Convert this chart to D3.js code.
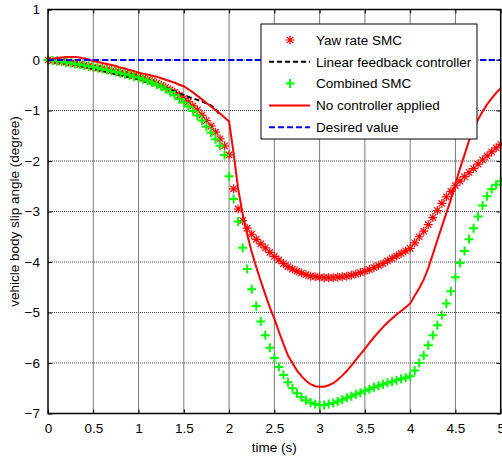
<!DOCTYPE html>
<html>
<head>
<meta charset="utf-8">
<script src="https://cdn.jsdelivr.net/npm/d3@7"></script>
<style>
  body { margin: 0; background: #fff; }
  text { font-family: Arial, "Liberation Sans", sans-serif; }
</style>
</head>
<body>
<div id="chart"></div>
<script>
// sample times (s)
const time = [0,0.05,0.1,0.15,0.2,0.25,0.3,0.35,0.4,0.45,0.5,0.55,0.6,0.65,0.7,0.75,0.8,0.85,0.9,0.95,
  1,1.05,1.1,1.15,1.2,1.25,1.3,1.35,1.4,1.45,1.5,1.55,1.6,1.65,1.7,1.75,1.8,1.85,1.9,1.95,
  2,2.05,2.1,2.15,2.2,2.25,2.3,2.35,2.4,2.45,2.5,2.55,2.6,2.65,2.7,2.75,2.8,2.85,2.9,2.95,
  3,3.05,3.1,3.15,3.2,3.25,3.3,3.35,3.4,3.45,3.5,3.55,3.6,3.65,3.7,3.75,3.8,3.85,3.9,3.95,
  4,4.05,4.1,4.15,4.2,4.25,4.3,4.35,4.4,4.45,4.5,4.55,4.6,4.65,4.7,4.75,4.8,4.85,4.9,4.95,5]

const yawSMC = [0,-0.01,-0.02,-0.03,-0.04,-0.06,-0.07,-0.09,-0.10,-0.12,-0.14,-0.16,-0.17,-0.19,-0.21,-0.23,-0.25,-0.27,-0.29,-0.31,
  -0.33,-0.36,-0.39,-0.42,-0.46,-0.50,-0.54,-0.59,-0.64,-0.70,-0.76,-0.83,-0.91,-0.99,-1.09,-1.20,-1.31,-1.43,-1.56,-1.70,
  -1.88,-2.55,-2.95,-3.18,-3.33,-3.45,-3.55,-3.64,-3.72,-3.81,-3.89,-3.96,-4.03,-4.09,-4.14,-4.18,-4.22,-4.25,-4.28,-4.29,
  -4.30,-4.31,-4.31,-4.31,-4.30,-4.29,-4.28,-4.26,-4.24,-4.21,-4.18,-4.15,-4.11,-4.07,-4.03,-3.98,-3.93,-3.88,-3.83,-3.78,
  -3.73,-3.62,-3.50,-3.39,-3.26,-3.12,-2.98,-2.84,-2.71,-2.60,-2.49,-2.40,-2.31,-2.23,-2.15,-2.06,-1.98,-1.90,-1.82,-1.74,-1.67]

// linear feedback only reaches t = 1.9
const linearFB = [0,-0.01,-0.03,-0.04,-0.06,-0.07,-0.09,-0.11,-0.13,-0.15,-0.17,-0.19,-0.21,-0.24,-0.26,-0.28,-0.30,-0.32,-0.34,-0.36,
  -0.38,-0.41,-0.44,-0.47,-0.50,-0.53,-0.56,-0.59,-0.62,-0.66,-0.69,-0.73,-0.76,-0.79,-0.82,-0.86,-0.90,-0.97,-1.10]

const combinedSMC = [0,-0.01,-0.02,-0.03,-0.05,-0.06,-0.08,-0.09,-0.11,-0.12,-0.14,-0.16,-0.18,-0.20,-0.22,-0.24,-0.26,-0.28,-0.30,-0.33,
  -0.35,-0.38,-0.41,-0.45,-0.49,-0.53,-0.58,-0.64,-0.70,-0.77,-0.84,-0.92,-1.01,-1.10,-1.20,-1.32,-1.44,-1.57,-1.70,-1.88,
  -2.30,-2.75,-3.20,-3.72,-4.14,-4.54,-4.87,-5.18,-5.45,-5.70,-5.90,-6.08,-6.24,-6.38,-6.50,-6.60,-6.68,-6.74,-6.78,-6.81,
  -6.83,-6.83,-6.81,-6.79,-6.76,-6.73,-6.69,-6.66,-6.62,-6.59,-6.55,-6.52,-6.48,-6.45,-6.42,-6.39,-6.37,-6.34,-6.31,-6.29,
  -6.26,-6.15,-6.00,-5.85,-5.65,-5.45,-5.25,-5.05,-4.82,-4.58,-4.30,-4.02,-3.78,-3.55,-3.33,-3.10,-2.88,-2.70,-2.56,-2.47,-2.40]

const noControl = [0,0.02,0.04,0.05,0.06,0.06,0.06,0.05,0.03,0.01,-0.02,-0.04,-0.06,-0.08,-0.10,-0.12,-0.15,-0.17,-0.20,-0.22,
  -0.25,-0.27,-0.29,-0.31,-0.33,-0.36,-0.39,-0.42,-0.45,-0.49,-0.52,-0.58,-0.64,-0.71,-0.78,-0.85,-0.92,-0.99,-1.06,-1.14,
  -1.22,-1.85,-2.55,-3.05,-3.45,-3.80,-4.10,-4.38,-4.64,-4.90,-5.12,-5.38,-5.62,-5.85,-6.00,-6.15,-6.26,-6.35,-6.42,-6.46,
  -6.47,-6.47,-6.44,-6.40,-6.33,-6.25,-6.16,-6.05,-5.94,-5.83,-5.72,-5.60,-5.49,-5.39,-5.29,-5.20,-5.12,-5.04,-4.97,-4.90,
  -4.82,-4.67,-4.52,-4.35,-4.12,-3.85,-3.57,-3.30,-3.03,-2.76,-2.45,-2.15,-1.88,-1.60,-1.36,-1.18,-1.02,-0.88,-0.76,-0.65,-0.56]

const desiredTime = [0, 5]
const desired = [0, 0]

const xTicks = [0, 0.5, 1, 1.5, 2, 2.5, 3, 3.5, 4, 4.5, 5]
const yTicks = [-7, -6, -5, -4, -3, -2, -1, 0, 1]
const legendLabels = ["Yaw rate SMC", "Linear feedback controller", "Combined SMC", "No controller applied", "Desired value"]

var width = 502, height = 459
var margin = { top: 9.5, right: 1.3, bottom: 45.5, left: 48 }
var fontSize = 13.5

var svg = d3.select("#chart").append("svg")
    .attr("width", width)
    .attr("height", height)

var x = d3.scaleLinear().domain([0, 5]).range([margin.left, width - margin.right])
var y = d3.scaleLinear().domain([-7, 1]).range([height - margin.bottom, margin.top])

// Grid
svg.append("g").selectAll("line").data(xTicks.slice(1, -1)).enter()
  .append("line")
    .attr("x1", d => x(d)).attr("x2", d => x(d))
    .attr("y1", y(1)).attr("y2", y(-7))
    .attr("stroke", "#7a7a7a").attr("stroke-width", 1)

svg.append("g").selectAll("line").data(yTicks.slice(1, -1)).enter()
  .append("line")
    .attr("x1", x(0)).attr("x2", x(5))
    .attr("y1", d => y(d)).attr("y2", d => y(d))
    .attr("stroke", "#444").attr("stroke-width", 1)
    .attr("stroke-dasharray", "1,1")

// Axes, ticks point inwards
svg.append("g")
    .attr("transform", "translate(0," + y(-7) + ")")
    .call(d3.axisBottom(x).tickValues(xTicks).tickSize(-4).tickPadding(10).tickFormat(d3.format("")))
svg.append("g")
    .attr("transform", "translate(0," + y(1) + ")")
    .call(d3.axisTop(x).tickValues(xTicks).tickSize(-4).tickFormat(""))
svg.append("g")
    .attr("transform", "translate(" + x(0) + ",0)")
    .call(d3.axisLeft(y).tickValues(yTicks).tickSize(-4).tickPadding(8).tickFormat(d3.format("")))
svg.append("g")
    .attr("transform", "translate(" + x(5) + ",0)")
    .call(d3.axisRight(y).tickValues(yTicks).tickSize(-4).tickFormat(""))

svg.selectAll(".domain").remove()
svg.selectAll(".tick line").attr("stroke", "#000")
svg.selectAll(".tick text").attr("font-size", fontSize).attr("fill", "#000")
    .style("font-family", "Arial, 'Liberation Sans', sans-serif")

// Series
var asterisk = "M-4.5,0H4.5M0,-4.5V4.5M-3.2,-3.2L3.2,3.2M-3.2,3.2L3.2,-3.2"
var plus = "M-4.5,0H4.5M0,-4.5V4.5"

var line = d3.line().x(d => x(d[0])).y(d => y(d[1]))

svg.append("g").selectAll("path").data(d3.zip(time, yawSMC)).enter()
  .append("path")
    .attr("d", asterisk)
    .attr("transform", d => "translate(" + x(d[0]) + "," + y(d[1]) + ")")
    .attr("stroke", "#ff0000").attr("stroke-width", 1.2).attr("fill", "none")

svg.append("path")
    .datum(d3.zip(time.slice(0, linearFB.length), linearFB))
    .attr("d", line)
    .attr("fill", "none").attr("stroke", "#000").attr("stroke-width", 2)
    .attr("stroke-dasharray", "5,3")

svg.append("g").selectAll("path").data(d3.zip(time, combinedSMC)).enter()
  .append("path")
    .attr("d", plus)
    .attr("transform", d => "translate(" + x(d[0]) + "," + y(d[1]) + ")")
    .attr("stroke", "#00ff00").attr("stroke-width", 2).attr("fill", "none")

svg.append("path")
    .datum(d3.zip(time, noControl))
    .attr("d", line)
    .attr("fill", "none").attr("stroke", "#ff0000").attr("stroke-width", 2)

svg.append("path")
    .datum(d3.zip(desiredTime, desired))
    .attr("d", line)
    .attr("fill", "none").attr("stroke", "#0000ff").attr("stroke-width", 2)
    .attr("stroke-dasharray", "6,3")

// Box
svg.append("rect")
    .attr("x", x(0)).attr("y", y(1))
    .attr("width", x(5) - x(0)).attr("height", y(-7) - y(1))
    .attr("fill", "none").attr("stroke", "#000").attr("stroke-width", 1.5)

// Labels
svg.append("text")
    .attr("x", (x(0) + x(5)) / 2).attr("y", 452)
    .attr("text-anchor", "middle").attr("font-size", fontSize)
    .text("time (s)")

svg.append("text")
    .attr("transform", "translate(19," + (y(1) + y(-7)) / 2 + ") rotate(-90)")
    .attr("text-anchor", "middle").attr("font-size", fontSize)
    .text("vehicle body slip angle (degree)")

// Legend
var legend = svg.append("g")
legend.append("rect")
    .attr("x", 261).attr("y", 24).attr("width", 216).attr("height", 115)
    .attr("fill", "#fff").attr("stroke", "#000").attr("stroke-width", 1)

var rowY = d => 40 + d * 21.8
var item = legend.selectAll(".item").data(legendLabels).enter()
  .append("g").attr("class", "item")
    .attr("transform", (d, i) => "translate(0," + rowY(i) + ")")

item.append("text")
    .attr("x", 316).attr("y", 0).attr("dy", "0.35em")
    .attr("font-size", fontSize)
    .text(d => d)

var swatch = [
  { type: "marker", d: asterisk, color: "#ff0000", w: 1.2 },
  { type: "line", color: "#000", dash: "5,3" },
  { type: "marker", d: plus, color: "#00ff00", w: 2 },
  { type: "line", color: "#ff0000", dash: null },
  { type: "line", color: "#0000ff", dash: "6,3" }
]
item.each(function(d, i) {
  var s = swatch[i]
  var g = d3.select(this)
  if (s.type === "marker") {
    g.append("path").attr("d", s.d)
      .attr("transform", "translate(290,0)")
      .attr("stroke", s.color).attr("stroke-width", s.w).attr("fill", "none")
  } else {
    g.append("line").attr("x1", 269).attr("x2", 310).attr("y1", 0).attr("y2", 0)
      .attr("stroke", s.color).attr("stroke-width", 2)
      .attr("stroke-dasharray", s.dash)
  }
})
</script>
</body>
</html>
